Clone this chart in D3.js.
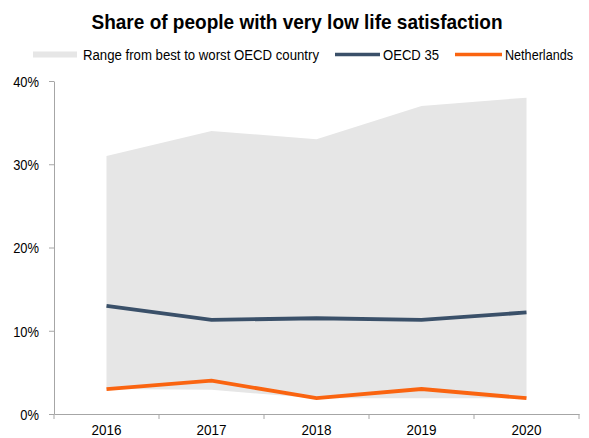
<!DOCTYPE html>
<meta charset="utf-8">
<script src="https://d3js.org/d3.v7.min.js"></script>
<body>
<div id="chart"></div>
<style>
 body { margin: 0; background: #fff; }
 text { font-family: "Liberation Sans", Arial, sans-serif; }
</style>
<script>
// data
var years = ["2016", "2017", "2018", "2019", "2020"];
var rangeHigh = [31, 34, 33, 37, 38];
var rangeLow = [3, 2.9, 1.9, 1.9, 1.9];
var oecd = [13, 11.3, 11.5, 11.3, 12.2];
var netherlands = [3, 4, 1.9, 3, 1.9];
var yTicks = [0, 10, 20, 30, 40];

var W = 589, H = 438;
var margin = {top: 81, right: 10, bottom: 24, left: 54};
var width = W - margin.left - margin.right,
    height = H - margin.top - margin.bottom;

var blue = "#3a5069", orange = "#fa6410";

var svg = d3.select("#chart").append("svg")
    .attr("width", W).attr("height", H);

// squeeze text to look like a narrow font
function narrow(sel, f) {
  sel.each(function() {
    var w = this.getComputedTextLength();
    d3.select(this).attr("textLength", w * f).attr("lengthAdjust", "spacingAndGlyphs");
  });
}

// title
svg.append("text")
    .attr("x", 297).attr("y", 29)
    .attr("text-anchor", "middle")
    .style("font-size", "20.5px").style("font-weight", "bold")
    .attr("textLength", 411).attr("lengthAdjust", "spacingAndGlyphs")
    .text("Share of people with very low life satisfaction");

// legend
var leg = svg.append("g").style("font-size", "14px");
leg.append("rect").attr("x", 33).attr("y", 51.5).attr("width", 44).attr("height", 6).attr("fill", "#e6e6e6");
leg.append("text").attr("x", 83).attr("y", 60).attr("textLength", 236).attr("lengthAdjust", "spacingAndGlyphs")
    .text("Range from best to worst OECD country");
leg.append("line").attr("x1", 335).attr("x2", 380).attr("y1", 54.5).attr("y2", 54.5).attr("stroke", blue).attr("stroke-width", 3.5);
leg.append("text").attr("x", 383).attr("y", 60).attr("textLength", 56).attr("lengthAdjust", "spacingAndGlyphs")
    .text("OECD 35");
leg.append("line").attr("x1", 455).attr("x2", 502).attr("y1", 54.5).attr("y2", 54.5).attr("stroke", orange).attr("stroke-width", 3.5);
leg.append("text").attr("x", 505).attr("y", 60).attr("textLength", 68).attr("lengthAdjust", "spacingAndGlyphs")
    .text("Netherlands");

var g = svg.append("g").attr("transform", "translate(" + margin.left + "," + margin.top + ")");

var x = d3.scaleBand().domain(years).range([0, width]);
var y = d3.scaleLinear().domain([0, 40]).range([height, 0]);
var cx = function(i) { return x(years[i]) + x.bandwidth() / 2; };

// range area
var area = d3.area()
    .x(function(d, i) { return cx(i); })
    .y0(function(d, i) { return y(rangeLow[i]); })
    .y1(function(d) { return y(d); });
g.append("path").datum(rangeHigh).attr("d", area).attr("fill", "#e6e6e6");

var line = d3.line().x(function(d, i) { return cx(i); }).y(function(d) { return y(d); });
g.append("path").datum(oecd).attr("d", line).attr("fill", "none")
    .attr("stroke", blue).attr("stroke-width", 3.8);
g.append("path").datum(netherlands).attr("d", line).attr("fill", "none")
    .attr("stroke", orange).attr("stroke-width", 3.8);

// y axis
var yAxis = g.append("g")
    .call(d3.axisLeft(y).tickValues(yTicks).tickSize(5).tickSizeOuter(0).tickFormat(function(d) { return d + "%"; }));
yAxis.select(".domain").attr("stroke", "#a6a6a6");
yAxis.selectAll(".tick line").attr("stroke", "#a6a6a6");
yAxis.selectAll(".tick text").attr("x", -15).attr("dy", "0.35em")
    .style("font-size", "15px").style("font-family", null).attr("fill", "#000")
    .call(narrow, 0.86);

// x axis with ticks between categories
var xAxis = g.append("g").attr("transform", "translate(0," + height + ")")
    .call(d3.axisBottom(x).tickSize(0).tickSizeOuter(0));
xAxis.select(".domain").attr("stroke", "#a6a6a6");
xAxis.selectAll(".tick text").attr("dy", "1.2em")
    .style("font-size", "15px").style("font-family", null).attr("fill", "#000")
    .call(narrow, 0.9);
xAxis.selectAll(".sep").data(years.concat(["end"])).enter().append("line")
    .attr("x1", function(d, i) { return i * x.bandwidth(); })
    .attr("x2", function(d, i) { return i * x.bandwidth(); })
    .attr("y1", 0).attr("y2", 5).attr("stroke", "#a6a6a6");
</script>
</body>
